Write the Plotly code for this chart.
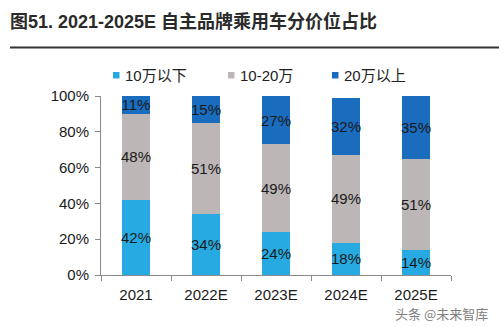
import plotly.graph_objects as go

# Price-band share of domestic-brand passenger cars
years = ["2021", "2022E", "2023E", "2024E", "2025E"]
series_names = ["10万以下", "10-20万", "20万以上"]
below_10w = [42, 34, 24, 18, 14]
between_10_20w = [48, 51, 49, 49, 51]
above_20w = [11, 15, 27, 32, 35]
y_ticks = [0, 20, 40, 60, 80, 100]

colors = ["#27AAE1", "#BCB6B6", "#1A6CBE"]
values = [below_10w, between_10_20w, above_20w]

W, H = 499, 327
L, R, T, B = 101, 48, 96, 52
plot_w, plot_h = W - L - R, H - T - B


def px_x(px):
    return (px - L) / plot_w


def px_y(py):
    return (H - B - py) / plot_h


fig = go.Figure()
for name, vals, col in zip(series_names, values, colors):
    fig.add_trace(go.Bar(
        x=years, y=vals, name=name,
        marker=dict(color=col, line=dict(width=0)),
        text=[f"{v}%" for v in vals],
        textposition="inside",
        insidetextanchor="middle",
        textangle=0,
        constraintext="none",
        textfont=dict(size=15, color="#1a1a1a",
                      family="Liberation Sans, Arial, sans-serif"),
        width=0.4,
        showlegend=False,
        hoverinfo="skip",
    ))

# Legend drawn as small squares with labels
legend_sq_x = [113, 228, 332]
for name, col, sx in zip(series_names, colors, legend_sq_x):
    fig.add_shape(type="rect", xref="paper", yref="paper",
                  x0=px_x(sx), x1=px_x(sx + 6.5),
                  y0=px_y(78.5), y1=px_y(72),
                  fillcolor=col, line=dict(width=0))
    fig.add_annotation(xref="paper", yref="paper",
                       x=px_x(sx + 9.5), y=px_y(75.5),
                       xanchor="left", yanchor="middle",
                       text=name, showarrow=False,
                       font=dict(size=15, color="#222",
                                 family="Liberation Sans, Noto Sans CJK SC, sans-serif"))

# Rule under the title
fig.add_shape(type="line", xref="paper", yref="paper",
              x0=px_x(10), x1=px_x(499), y0=px_y(47.5), y1=px_y(47.5),
              line=dict(color="#333333", width=2))

# Source mark
fig.add_annotation(xref="paper", yref="paper",
                   x=px_x(490), y=px_y(313),
                   xanchor="right", yanchor="middle",
                   text="头条 @未来智库", showarrow=False,
                   font=dict(size=13, color="#808080",
                             family="Noto Sans CJK SC, sans-serif"))

fig.update_layout(
    width=W, height=H,
    margin=dict(l=L, r=R, t=T, b=B),
    paper_bgcolor="white", plot_bgcolor="white",
    barmode="stack",
    title=dict(
        text="<b>图51. 2021-2025E 自主品牌乘用车分价位占比</b>",
        x=10 / W, xanchor="left", xref="container",
        y=1 - 22 / H, yanchor="middle", yref="container",
        font=dict(size=18, color="#2a2a2a",
                  family="Liberation Sans, Noto Sans CJK SC, sans-serif"),
    ),
    xaxis=dict(
        showline=True, linecolor="#8a8a8a", linewidth=1,
        ticks="outside", ticklen=5, tickcolor="#8a8a8a",
        tickson="boundaries",
        ticklabelstandoff=6,
        tickfont=dict(size=15, color="#1a1a1a",
                      family="Liberation Sans, Arial, sans-serif"),
        showgrid=False, zeroline=False,
    ),
    yaxis=dict(
        range=[0, 100], tickvals=y_ticks,
        ticktext=[f"{v}%" for v in y_ticks],
        showline=True, linecolor="#8a8a8a", linewidth=1,
        ticks="outside", ticklen=5, tickcolor="#8a8a8a",
        ticklabelstandoff=3,
        tickfont=dict(size=15, color="#1a1a1a",
                      family="Liberation Sans, Arial, sans-serif"),
        showgrid=False, zeroline=False,
    ),
)

fig.write_html("out.html")
